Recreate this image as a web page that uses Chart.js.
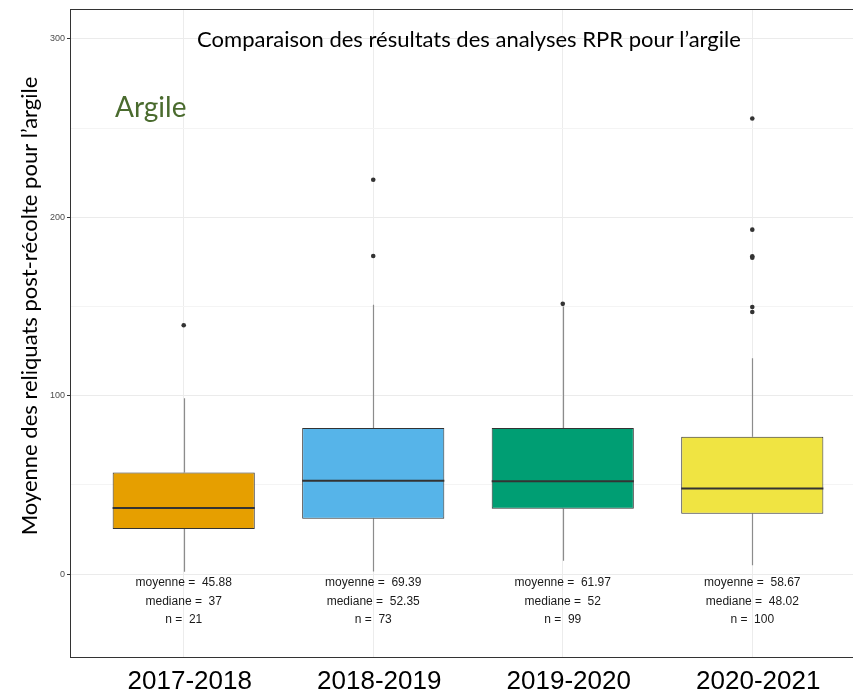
<!DOCTYPE html>
<html lang="fr">
<head>
<meta charset="utf-8">
<title>Reliquats post-récolte - argile</title>
<script src="https://cdn.jsdelivr.net/npm/chart.js@4/dist/chart.umd.min.js"></script>
<style>
  html, body { margin: 0; padding: 0; background: #fff; overflow: hidden; }
  #wrap { width: 870px; height: 694px; }
</style>
</head>
<body>
<div id="wrap"><canvas id="rpr-argile" width="870" height="694"></canvas></div>
<script>
// Saisons et statistiques des boîtes à moustaches
const saisons = ['2017-2018', '2018-2019', '2019-2020', '2020-2021'];
const q1 = [25.2, 31.0, 36.6, 33.8];
const medianes = [37, 52.35, 52, 48.02];
const q3 = [57.0, 81.9, 81.9, 77.0];
const moustacheBas = [1.3, 1.5, 7.5, 5.0];
const moustacheHaut = [98.5, 151, 150, 121];
const moyennes = [45.88, 69.39, 61.97, 58.67];
const effectifs = [21, 73, 99, 100];
const aberrants = [
    [139.5],
    [221.1, 178.3],
    [151.5],
    [255.4, 193.1, 178.2, 177.4, 149.7, 146.9]
];
const couleurs = ['#E69F00', '#56B4E9', '#009E73', '#F0E442'];
const graduationsY = [0, 50, 100, 150, 200, 250, 300];

const boites = saisons.map((s, i) => ({ x: i, y: [q1[i], q3[i]] }));
const points = [];
aberrants.forEach((liste, i) => liste.forEach(v => points.push({ x: i, y: v })));

// moustaches sous les boîtes, médianes et textes par-dessus
const boxplotPlugin = {
    id: 'boxplot',
    beforeDatasetsDraw(chart) {
        const { ctx, scales: { x, y } } = chart;
        ctx.save();
        ctx.strokeStyle = '#8c8c8c';
        ctx.lineWidth = 1.2;
        saisons.forEach((s, i) => {
            const px = Math.round(x.getPixelForValue(i)) + 0.5;
            ctx.beginPath();
            ctx.moveTo(px, y.getPixelForValue(moustacheBas[i]));
            ctx.lineTo(px, y.getPixelForValue(q1[i]));
            ctx.moveTo(px, y.getPixelForValue(q3[i]));
            ctx.lineTo(px, y.getPixelForValue(moustacheHaut[i]));
            ctx.stroke();
        });
        ctx.restore();
    },
    afterDatasetsDraw(chart) {
        const { ctx, chartArea, scales: { x, y } } = chart;
        const meta = chart.getDatasetMeta(0);
        ctx.save();
        // médianes
        ctx.strokeStyle = '#333333';
        ctx.lineWidth = 2;
        meta.data.forEach((bar, i) => {
            const half = bar.width / 2;
            const py = y.getPixelForValue(medianes[i]);
            ctx.beginPath();
            ctx.moveTo(bar.x - half, py);
            ctx.lineTo(bar.x + half, py);
            ctx.stroke();
        });
        // statistiques sous chaque boîte
        ctx.fillStyle = '#1a1a1a';
        ctx.font = '12px "Liberation Sans", Arial, sans-serif';
        ctx.textAlign = 'center';
        ctx.textBaseline = 'middle';
        saisons.forEach((s, i) => {
            const px = x.getPixelForValue(i);
            ctx.fillText('moyenne =  ' + moyennes[i], px, y.getPixelForValue(-5));
            ctx.fillText('mediane =  ' + medianes[i], px, y.getPixelForValue(-15.6));
            ctx.fillText('n =  ' + effectifs[i], px, y.getPixelForValue(-25.8));
        });
        // titre et étiquette
        ctx.fillStyle = '#000000';
        ctx.font = '22px Lato, "Open Sans", sans-serif';
        ctx.fillText('Comparaison des résultats des analyses RPR pour l’argile', 469, 40);
        ctx.fillStyle = '#4a6b2e';
        ctx.font = '28px Lato, "Open Sans", sans-serif';
        ctx.textAlign = 'left';
        ctx.fillText('Argile', 115, 108);
        // titre de l'axe Y
        ctx.fillStyle = '#000000';
        ctx.font = '22px Lato, "Open Sans", sans-serif';
        ctx.translate(30, 306);
        ctx.rotate(-Math.PI / 2);
        ctx.textAlign = 'center';
        ctx.fillText('Moyenne des reliquats post-récolte pour l’argile', 0, 0);
        ctx.setTransform(1, 0, 0, 1, 0, 0);
        // cadre du panneau
        ctx.strokeStyle = '#333333';
        ctx.lineWidth = 1;
        ctx.strokeRect(Math.round(chartArea.left) + 0.5, Math.round(chartArea.top) + 0.5,
            Math.round(chartArea.right - chartArea.left), Math.round(chartArea.bottom - chartArea.top));
        ctx.restore();
    }
};

new Chart(document.getElementById('rpr-argile'), {
    type: 'bar',
    data: {
        datasets: [
            {
                label: 'RPR',
                data: boites,
                backgroundColor: couleurs,
                borderColor: '#333333',
                borderWidth: 1,
                borderSkipped: false,
                barPercentage: 0.75,
                categoryPercentage: 1,
                order: 2
            },
            {
                type: 'scatter',
                label: 'aberrants',
                data: points,
                pointRadius: 2.3,
                pointBackgroundColor: '#333333',
                pointBorderWidth: 0,
                order: 1
            }
        ]
    },
    plugins: [boxplotPlugin],
    options: {
        responsive: false,
        animation: false,
        layout: { padding: { top: 9, right: 2, left: 0, bottom: 0 } },
        plugins: {
            legend: { display: false },
            tooltip: { enabled: false },
            title: { display: false }
        },
        scales: {
            x: {
                type: 'linear',
                min: -0.6,
                max: 3.6,
                offset: false,
                afterBuildTicks: axis => { axis.ticks = saisons.map((s, i) => ({ value: i })); },
                afterFit: axis => { axis.height = 37; },
                border: { display: false },
                grid: { color: '#ececec', lineWidth: 1, drawTicks: false, offset: false },
                ticks: {
                    callback: v => saisons[v],
                    color: '#000000',
                    font: { family: '"Liberation Sans", Arial, sans-serif', size: 26 },
                    padding: 9,
                    labelOffset: 6,
                    maxRotation: 0,
                    autoSkip: false
                }
            },
            y: {
                min: -46.5,
                max: 316.8,
                afterBuildTicks: axis => { axis.ticks = graduationsY.map(v => ({ value: v })); },
                afterFit: axis => { axis.width = 70; },
                border: { display: false },
                grid: {
                    color: ctx => ctx.tick && ctx.tick.value % 100 === 0 ? '#ebebeb' : '#f4f4f4',
                    lineWidth: 1,
                    tickLength: 3,
                    tickColor: ctx => ctx.tick && ctx.tick.value % 100 === 0 ? '#333333' : 'rgba(0,0,0,0)'
                },
                ticks: {
                    callback: v => (v % 100 === 0 ? String(v) : ''),
                    color: '#4d4d4d',
                    font: { family: '"Liberation Sans", Arial, sans-serif', size: 9 },
                    padding: 2
                }
            }
        }
    }
});
</script>
</body>
</html>
